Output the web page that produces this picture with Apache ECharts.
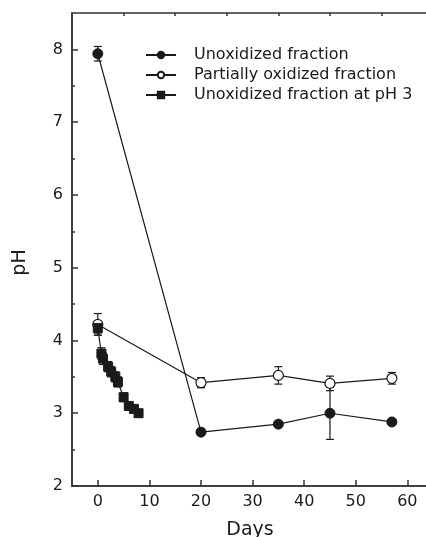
<!DOCTYPE html>
<html>
<head>
<meta charset="utf-8">
<script src="https://cdn.jsdelivr.net/npm/echarts@6/dist/echarts.min.js"></script>
<style>
  html, body { margin: 0; padding: 0; background: #fff; }
  #chart { width: 426px; height: 537px; }
</style>
</head>
<body>
<div id="chart"></div>
<script>
// series data
const seriesNames = ['Unoxidized fraction', 'Partially oxidized fraction', 'Unoxidized fraction at pH 3']

const unoxDays = [0, 20, 35, 45, 57]
const unoxPH = [7.94, 2.74, 2.85, 3.0, 2.88]
const unoxErr = [0.1, 0.04, 0.03, 0.36, 0.03]

const partDays = [0, 20, 35, 45, 57]
const partPH = [4.22, 3.42, 3.52, 3.41, 3.48]
const partErr = [0.15, 0.07, 0.12, 0.1, 0.08]

const ph3Days = [0, 0.7, 1.0, 2.0, 2.6, 3.4, 3.9, 5.0, 6.0, 7.0, 7.9]
const ph3PH = [4.17, 3.82, 3.75, 3.64, 3.57, 3.5, 3.43, 3.22, 3.1, 3.06, 3.0]
const ph3Err = [0.08, 0.08, 0.08, 0.07, 0.07, 0.07, 0.07, 0.06, 0.05, 0.05, 0.05]

const xMajor = [0, 10, 20, 30, 40, 50, 60]
const xMinor = [5, 15, 25, 35, 45, 55]
const yMajor = [2, 3, 4, 5, 6, 7, 8]
const yMinor = [2.5, 3.5, 4.5, 5.5, 6.5, 7.5]

const zip = (xs, ys) => xs.map((x, i) => [x, ys[i]])
const zip3 = (xs, ys, es) => xs.map((x, i) => [x, ys[i], es[i]])

const ink = '#1a1a1a'
const axisCol = '#333'
const font = 'DejaVu Sans'

const errorBars = (data) => ({
  type: 'custom',
  silent: true,
  z: 1,
  data: data,
  renderItem: (params, api) => {
    const x = api.value(0)
    const y = api.value(1)
    const e = api.value(2)
    const top = api.coord([x, y + e])
    const bot = api.coord([x, y - e])
    const cap = 4
    const style = { stroke: ink, lineWidth: 1.2 }
    return {
      type: 'group',
      children: [
        { type: 'line', shape: { x1: top[0], y1: top[1], x2: bot[0], y2: bot[1] }, style },
        { type: 'line', shape: { x1: top[0] - cap, y1: top[1], x2: top[0] + cap, y2: top[1] }, style },
        { type: 'line', shape: { x1: bot[0] - cap, y1: bot[1], x2: bot[0] + cap, y2: bot[1] }, style }
      ]
    }
  }
})

const xBase = {
  type: 'value',
  min: -5,
  max: 64,
  splitLine: { show: false }
}
const yBase = {
  type: 'value',
  min: 2,
  max: 8.5,
  position: 'left',
  splitLine: { show: false }
}

const option = {
  backgroundColor: '#fff',
  animation: false,
  grid: {
    left: 72, right: -2, top: 13, bottom: 51,
    outerBoundsMode: 'none',
    containLabel: false,
    show: true, borderColor: axisCol, borderWidth: 1.5
  },
  legend: {
    data: seriesNames,
    orient: 'vertical',
    left: 145,
    top: 47,
    padding: 0,
    itemWidth: 30,
    itemHeight: 8,
    itemGap: 4,
    textStyle: { fontFamily: font, fontSize: 16, color: ink, padding: [0, 0, 0, 13] }
  },
  xAxis: [
    Object.assign({}, xBase, {
      name: 'Days',
      nameLocation: 'middle',
      nameGap: 35,
      nameTextStyle: { fontFamily: font, fontSize: 19, color: ink },
      axisLine: { show: true, onZero: false, lineStyle: { color: axisCol, width: 1.5 } },
      axisTick: { show: true, inside: true, length: 6, customValues: xMajor, lineStyle: { color: axisCol, width: 1.5 } },
      axisLabel: { customValues: xMajor, fontFamily: font, fontSize: 16, color: ink, margin: 8 }
    }),
    Object.assign({}, xBase, {
      axisLine: { show: false, onZero: false },
      axisTick: { show: true, inside: true, length: 3, customValues: xMinor, lineStyle: { color: axisCol, width: 1.5 } },
      axisLabel: { show: false }
    })
  ],
  yAxis: [
    Object.assign({}, yBase, {
      name: 'pH',
      nameLocation: 'middle',
      nameGap: 42,
      nameTextStyle: { fontFamily: font, fontSize: 19, color: ink, padding: [0, 26, 0, 0] },
      axisLine: { show: true, onZero: false, lineStyle: { color: axisCol, width: 1.5 } },
      axisTick: { show: true, inside: true, length: 6, customValues: yMajor, lineStyle: { color: axisCol, width: 1.5 } },
      axisLabel: { customValues: yMajor, fontFamily: font, fontSize: 16, color: ink, margin: 9 }
    }),
    Object.assign({}, yBase, {
      axisLine: { show: false, onZero: false },
      axisTick: { show: true, inside: true, length: 3, customValues: yMinor, lineStyle: { color: axisCol, width: 1.5 } },
      axisLabel: { show: false }
    })
  ],
  series: [
    errorBars(zip3(unoxDays, unoxPH, unoxErr)),
    errorBars(zip3(partDays, partPH, partErr)),
    errorBars(zip3(ph3Days, ph3PH, ph3Err)),
    {
      name: seriesNames[0],
      type: 'line',
      data: zip(unoxDays, unoxPH),
      symbol: 'circle',
      symbolSize: 10,
      z: 3,
      lineStyle: { color: ink, width: 1.2 },
      itemStyle: { color: ink, borderColor: ink, borderWidth: 1 }
    },
    {
      name: seriesNames[1],
      type: 'line',
      data: zip(partDays, partPH),
      symbol: 'circle',
      symbolSize: 10,
      z: 3,
      lineStyle: { color: ink, width: 1.2 },
      itemStyle: { color: '#fff', borderColor: ink, borderWidth: 1.2 }
    },
    {
      name: seriesNames[2],
      type: 'line',
      data: zip(ph3Days, ph3PH),
      symbol: 'rect',
      symbolSize: 9,
      z: 3,
      lineStyle: { color: ink, width: 1.2 },
      itemStyle: { color: ink, borderColor: ink, borderWidth: 1 }
    }
  ]
}

const chart = echarts.init(document.getElementById('chart'), null, { renderer: 'canvas' })
chart.setOption(option)
</script>
</body>
</html>
